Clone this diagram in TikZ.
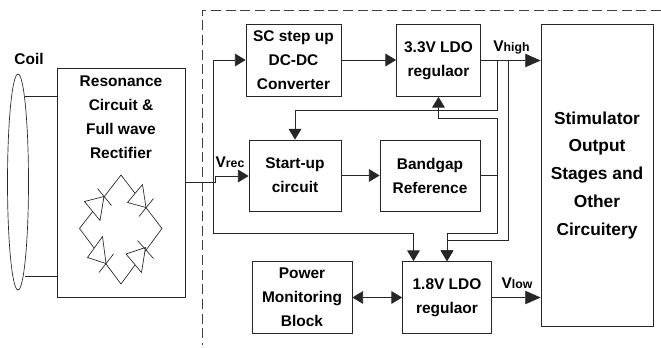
\documentclass[tikz,border=0pt]{standalone}
\usepackage{fontspec}
\setmainfont{Liberation Sans}
\usetikzlibrary{arrows.meta,calc,shapes.geometric}
\tikzset{
  x=0.75pt,y=-0.75pt,
  wire/.style={line width=0.62pt,black!85},
  arr/.style={wire,-{Triangle[length=8pt,width=9.5pt]}},
  barr/.style={wire,-{Triangle[length=11.5pt,width=10pt]}},
  darr/.style={wire,{Triangle[length=8pt,width=9.5pt]}-{Triangle[length=8pt,width=9.5pt]}},
  box/.style n args={2}{draw=black!85,line width=0.62pt,inner sep=0pt,align=center,font=\bfseries\fontsize{11.6}{18}\selectfont,
     minimum width=#1*0.75pt,minimum height=#2*0.75pt},
  txt/.style={inner sep=0pt,align=center,font=\bfseries\fontsize{11.6}{18}\selectfont},
  sig/.style={inner sep=0pt,font=\bfseries\fontsize{11.6}{14}\selectfont},
  frame/.style={dash pattern=on 7.5pt off 3.5pt,line width=0.6pt,black!75},
  diode/.style={line width=0.5pt,black!85,line join=round},
}
\newcommand{\sm}[1]{{\fontsize{9.2}{10}\selectfont #1}}
\begin{document}
\begin{tikzpicture}
\useasboundingbox[fill=white] (0,0) rectangle (661,347);
% frame
\coordinate (fa) at (661,10); \coordinate (fb) at (202,10); \coordinate (fc) at (202,345);
\draw[frame] (fa) -- (fb) -- (fc);
% coil
\node[draw=black!85,line width=0.5pt,ellipse,inner sep=0pt,minimum width=21*0.75pt,minimum height=216*0.75pt] (coil) at (18,182) {};
\node[sig] (coiltxt) at (29,59) {Coil};
% boxes
\node[box={128}{229}] (res) at (121,182.5) {};
\node[txt,anchor=north] (restxt) at (121,76) {Resonance\\Circuit \&\\Full wave\\Rectifier};
\node[box={95}{72}] (sc) at (293.5,60.5) {SC step up\\DC-DC\\Converter};
\node[box={84}{72}] (ldoh) at (438.5,60.5) {3.3V LDO\\regulaor};
\node[box={92}{71}] (start) at (295,175.5) {Start-up\\circuit};
\node[box={100}{71}] (bg) at (430,175.5) {Bandgap\\Reference};
\node[box={100}{72}] (pm) at (302,297.5) {Power\\Monitoring\\Block};
\node[box={89}{72}] (ldol) at (447,297.5) {1.8V LDO\\regulaor};
\node[box={112}{301.5},font=\bfseries\fontsize{13}{20.8}\selectfont] (stim) at (597,175.2) {Stimulator\\Output\\Stages and\\Other\\Circuitery};
% coil leads
\coordinate (c1) at (25,96); \coordinate (c2) at (25,276);
\draw[wire] (c1) -- (res.west |- c1);
\draw[wire] (c2) -- (res.west |- c2);
% rectifier bridge
\coordinate (bt) at (121,175); \coordinate (br) at (162,228.5); \coordinate (bb) at (121,284); \coordinate (bl) at (79.5,228.5);
\draw[diode] (bl) -- (bt) -- (br) -- (bb) -- cycle;
\draw[diode,fill=white] (104,196.5) -- (84.5,201.5) -- (100,220.5) -- cycle;
\draw[diode] (97.5,188.5) -- (111.5,205.5);
\draw[diode,fill=white] (142.5,184.5) -- (127.5,202.5) -- (146,207.5) -- cycle;
\draw[diode] (153.5,198.5) -- (139,216.5);
\draw[diode,fill=white] (126,254) -- (141.5,272.5) -- (145.5,247.5) -- cycle;
\draw[diode] (137.5,240.5) -- (153.5,258.5);
\draw[diode,fill=white] (102.5,236.5) -- (87.5,257.5) -- (106,263.5) -- cycle;
\draw[diode] (113.5,254) -- (99,272.5);
% rectified rail
\coordinate (jr) at (215,182.5);
\coordinate (jv) at (215,176);
\coordinate (rt) at (213,60);
\coordinate (rb) at (213,233.5);
\draw[wire] (res.east |- jr) -- (jr);
\draw[arr] (jr) -- (jv) -- (start.west |- jv);
\draw[arr] (rb) -- (rt) -- (sc.west |- rt);
\coordinate (l1) at (413.5,233.5);
\draw[arr] (rb) -- (l1) -- (l1 |- ldol.north);
% forward chain
\draw[arr] (sc.east |- rt) -- (ldoh.west |- rt);
\draw[arr] (start.east) -- (bg.west);
\draw[barr] (ldoh.east) -- (stim.west |- ldoh.east);
\draw[barr] (ldol.east) -- (stim.west |- ldol.east);
\draw[darr] (pm.east) -- (ldol.west);
% Vhigh feedback to start-up
\coordinate (f1) at (497,60.5); \coordinate (f2) at (497,110.5); \coordinate (f3) at (295,110.5);
\draw[arr] (f1) -- (f2) -- (f3) -- (start.north);
% Vhigh to 1.8V LDO
\coordinate (h1) at (508,60.5); \coordinate (h2) at (508,240); \coordinate (h3) at (447,240);
\draw[arr] (h1) -- (h2) -- (h3) -- (ldol.north);
% bandgap out
\coordinate (b1) at (497,175.5); \coordinate (b2) at (497,118); \coordinate (b3) at (438.5,118);
\coordinate (b4) at (497,233.5); \coordinate (b5) at (447,233.5);
\draw[arr] (bg.east) -- (b1) -- (b2) -- (b3) -- (ldoh.south);
\draw[arr] (b1) -- (b4) -- (b5) -- (ldol.north);
% signal labels
\node[sig] (vrec) at (230,162) {V\sm{rec}};
\node[sig] (vhigh) at (511.5,47) {V\sm{high}};
\node[sig] (vlow) at (517,283) {V\sm{low}};
\end{tikzpicture}
\end{document}
